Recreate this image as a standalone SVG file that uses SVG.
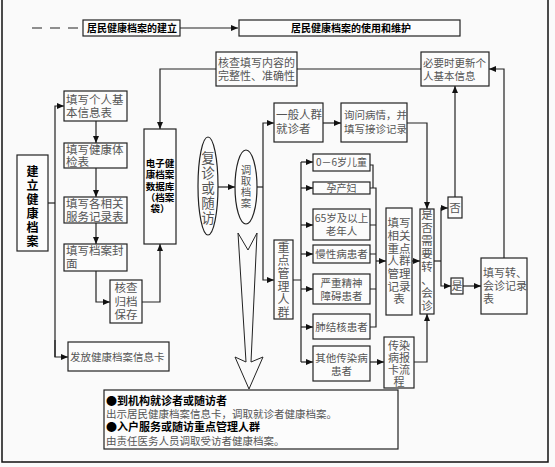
<svg xmlns="http://www.w3.org/2000/svg" width="555" height="467" viewBox="0 0 555 467" font-size="12">
<defs>
<marker id="ar" markerUnits="userSpaceOnUse" markerWidth="7" markerHeight="6" refX="7" refY="3" orient="auto"><path d="M0,0 L7,3 L0,6 z" fill="#111"/></marker>
<style>
.b{fill:#fcfcfc;stroke:#222;stroke-width:1.2}
.t{font-family:"Noto Sans CJK SC","Noto Sans CJK JP",sans-serif;fill:#555}
.m{text-anchor:middle}
.k{font-weight:bold;fill:#000}
.c{fill:none;stroke:#222;stroke-width:1.2}
.a{marker-end:url(#ar)}
</style>
</defs>
<rect width="555" height="467" fill="#fafafa"/>
<path d="M2,0 V462 H548 V0" fill="none" stroke="#111" stroke-width="1.5"/>

<g id="connectors">
<path class="c" d="M32,28 H80" stroke-dasharray="10,8"/>
<path class="c a" d="M180,28 H238"/>
<path class="c a" d="M216,69 H160 V129"/>
<path class="c" d="M297,69 H421"/>
<path class="c a" d="M504,258 V69 H489"/>
<path class="c a" d="M455,197 V86"/>
<path class="c" d="M48,203 H55"/>
<path class="c a" d="M55,357 V106 H64"/>
<path class="c a" d="M55,340 V357 H68"/>
<path class="c a" d="M96,121 V143"/>
<path class="c a" d="M96,168 V197"/>
<path class="c a" d="M96,223 V244"/>
<path class="c a" d="M96,271 V302 H110"/>
<path class="c a" d="M142,302 H160 V244"/>
<path class="c a" d="M218,187 H235"/>
<path class="c" d="M257,187 H263"/>
<path class="c a" d="M263,187 V123 H274"/>
<path class="c a" d="M263,187 V280 H274"/>
<path class="c a" d="M323,123 H341"/>
<path class="c a" d="M407,123 H427 V209"/>
<path class="c" d="M293,280 H301 M301,162 V362"/>
<path class="c a" d="M301,162 H313"/>
<path class="c a" d="M301,188 H313"/>
<path class="c a" d="M301,225 H313"/>
<path class="c a" d="M301,254 H313"/>
<path class="c a" d="M301,289 H313"/>
<path class="c a" d="M301,327 H313"/>
<path class="c a" d="M301,362 H313"/>
<path class="c" d="M370,165 H373 V188 M370,188 H376 V327 H370 M370,225 H376 M370,254 H376 M370,289 H376"/>
<path class="c a" d="M376,261 H386"/>
<path class="c a" d="M412,261 H420"/>
<path class="c a" d="M370,362 H384"/>
<path class="c a" d="M414,362 H427 V314"/>
<path class="c" d="M434,261 H441"/>
<path class="c a" d="M441,261 V208 H448"/>
<path class="c a" d="M441,261 V286 H451"/>
<path class="c a" d="M463,286 H481"/>
<path d="M238,233 L248,250 L257,233 L251,362 L263,357 L249,389 L235,357 L246,362 Z" fill="#fafafa" stroke="#222" stroke-width="1"/>
</g>

<g id="h1"><rect class="b" x="83" y="20" width="97" height="16"/><text class="t k" x="87" y="32" font-size="10">居民健康档案的建立</text></g>
<g id="h2"><rect class="b" x="239" y="20" width="221" height="16"/><text class="t k" x="291" y="32" font-size="10">居民健康档案的使用和维护</text></g>

<g id="check"><rect class="b" x="216" y="52" width="81" height="34"/><text class="t" x="218" y="67" font-size="11">核查填写内容的</text><text class="t" x="218" y="80" font-size="11">完整性、准确性</text></g>
<g id="update"><rect class="b" x="421" y="52" width="68" height="34"/><text class="t" x="423" y="67" font-size="10.5">必要时更新个</text><text class="t" x="423" y="80" font-size="10.5">人基本信息</text></g>

<g id="build"><rect class="b" x="17" y="155" width="31" height="96"/>
<text class="t k m" font-size="12"><tspan x="32.5" y="176">建</tspan><tspan x="32.5" y="190">立</tspan><tspan x="32.5" y="204">健</tspan><tspan x="32.5" y="218">康</tspan><tspan x="32.5" y="232">档</tspan><tspan x="32.5" y="246">案</tspan></text></g>

<g id="f1"><rect class="b" x="64" y="91" width="63" height="30"/><text class="t" x="66" y="104" font-size="11.5">填写个人基</text><text class="t" x="66" y="117" font-size="11.5">本信息表</text></g>
<g id="f2"><rect class="b" x="64" y="143" width="63" height="25"/><text class="t" x="66" y="154" font-size="11.5">填写健康体</text><text class="t" x="66" y="166" font-size="11.5">检表</text></g>
<g id="f3"><rect class="b" x="64" y="197" width="63" height="26"/><text class="t" x="66" y="208" font-size="11.5">填写各相关</text><text class="t" x="66" y="221" font-size="11.5">服务记录表</text></g>
<g id="f4"><rect class="b" x="64" y="244" width="63" height="27"/><text class="t" x="66" y="255" font-size="11.5">填写档案封</text><text class="t" x="66" y="268" font-size="11.5">面</text></g>
<g id="archive"><rect class="b" x="110" y="280" width="32" height="43"/><text class="t m" x="126" y="292" font-size="11.5">核查</text><text class="t m" x="126" y="306" font-size="11.5">归档</text><text class="t m" x="126" y="319" font-size="11.5">保存</text></g>
<g id="card"><rect class="b" x="68" y="342" width="101" height="29"/><text class="t" x="70" y="361" font-size="10.5">发放健康档案信息卡</text></g>

<g id="db"><rect class="b" x="144" y="129" width="32" height="115"/>
<text class="t k m" font-size="9.5"><tspan x="160" y="167">电子健</tspan><tspan x="160" y="178">康档案</tspan><tspan x="160" y="190">数据库</tspan><tspan x="160" y="201">（档案</tspan><tspan x="160" y="212">袋）</tspan></text></g>

<g id="revisit"><ellipse class="b" cx="208" cy="186" rx="10" ry="49"/>
<text class="t m" font-size="13.5"><tspan x="208" y="163">复</tspan><tspan x="208" y="178">诊</tspan><tspan x="208" y="193">或</tspan><tspan x="208" y="208">随</tspan><tspan x="208" y="223">访</tspan></text></g>
<g id="fetch"><ellipse class="b" cx="246" cy="187" rx="11" ry="37"/>
<text class="t m" font-size="10.5"><tspan x="246" y="174">调</tspan><tspan x="246" y="185">取</tspan><tspan x="246" y="196">档</tspan><tspan x="246" y="207">案</tspan></text></g>

<g id="general"><rect class="b" x="274" y="103" width="49" height="39"/><text class="t" x="276" y="119" font-size="11.5">一般人群</text><text class="t" x="276" y="133" font-size="11.5">就诊者</text></g>
<g id="ask"><rect class="b" x="341" y="103" width="66" height="39"/><text class="t" x="344" y="119" font-size="10.5">询问病情，并</text><text class="t" x="344" y="133" font-size="10.5">填写接诊记录</text></g>

<g id="key"><rect class="b" x="274" y="240" width="19" height="79"/>
<text class="t m" font-size="12"><tspan x="283.5" y="252">重</tspan><tspan x="283.5" y="265">点</tspan><tspan x="283.5" y="278">管</tspan><tspan x="283.5" y="291">理</tspan><tspan x="283.5" y="304">人</tspan><tspan x="283.5" y="317">群</tspan></text></g>

<g id="g1"><rect class="b" x="313" y="154" width="57" height="17"/><text class="t m" x="341.5" y="166" font-size="10">0－6岁儿童</text></g>
<g id="g2"><rect class="b" x="313" y="182" width="57" height="12"/><text class="t m" x="341.5" y="192" font-size="10">孕产妇</text></g>
<g id="g3"><rect class="b" x="313" y="209" width="57" height="31"/><text class="t m" x="341.5" y="222" font-size="10.5">65岁及以上</text><text class="t m" x="341.5" y="235" font-size="10.5">老年人</text></g>
<g id="g4"><rect class="b" x="313" y="245" width="57" height="18"/><text class="t m" x="341.5" y="258" font-size="10.5">慢性病患者</text></g>
<g id="g5"><rect class="b" x="313" y="274" width="57" height="30"/><text class="t m" x="341.5" y="287" font-size="10.5">严重精神</text><text class="t m" x="341.5" y="300" font-size="10.5">障碍患者</text></g>
<g id="g6"><rect class="b" x="313" y="314" width="57" height="25"/><text class="t m" x="341.5" y="331" font-size="10.5">肺结核患者</text></g>
<g id="g7"><rect class="b" x="313" y="346" width="57" height="35"/><text class="t m" x="341.5" y="362" font-size="10.5">其他传染病</text><text class="t m" x="341.5" y="375" font-size="10.5">患者</text></g>

<g id="keyrec"><rect class="b" x="386" y="208" width="26" height="107"/>
<text class="t m" font-size="11.5"><tspan x="399" y="227">填写</tspan><tspan x="399" y="240">相关</tspan><tspan x="399" y="253">重点</tspan><tspan x="399" y="265">人群</tspan><tspan x="399" y="278">管理</tspan><tspan x="399" y="291">记录</tspan><tspan x="399" y="303">表</tspan></text></g>
<g id="infect"><rect class="b" x="384" y="337" width="30" height="51"/>
<text class="t m" font-size="11"><tspan x="399" y="350">传染</tspan><tspan x="399" y="362">病报</tspan><tspan x="399" y="374">卡流</tspan><tspan x="399" y="386">程</tspan></text></g>

<g id="decide"><rect class="b" x="420" y="209" width="14" height="105"/>
<text class="t m" font-size="11.5"><tspan x="427" y="219">是</tspan><tspan x="427" y="232">否</tspan><tspan x="427" y="245">需</tspan><tspan x="427" y="258">要</tspan><tspan x="427" y="271">转</tspan><tspan x="427" y="284">、</tspan><tspan x="427" y="297">会</tspan><tspan x="427" y="310">诊</tspan></text></g>
<g id="no"><rect class="b" x="448" y="197" width="14" height="21"/><text class="t m" x="455" y="212" font-size="11.5">否</text></g>
<g id="yes"><rect class="b" x="451" y="278" width="12" height="16"/><text class="t m" x="457" y="290" font-size="11">是</text></g>
<g id="transrec"><rect class="b" x="481" y="258" width="46" height="56"/><text class="t" x="483" y="277" font-size="11">填写转、</text><text class="t" x="483" y="290" font-size="11">会诊记录</text><text class="t" x="483" y="303" font-size="11">表</text></g>

<g id="info"><rect class="b" x="104" y="390" width="294" height="59"/>
<text class="t k" x="106" y="405" font-size="11">●到机构就诊者或随访者</text>
<text class="t" x="106" y="418" font-size="10.5">出示居民健康档案信息卡，调取就诊者健康档案。</text>
<text class="t k" x="106" y="431" font-size="11">●入户服务或随访重点管理人群</text>
<text class="t" x="106" y="445" font-size="10.5">由责任医务人员调取受访者健康档案。</text></g>
</svg>
